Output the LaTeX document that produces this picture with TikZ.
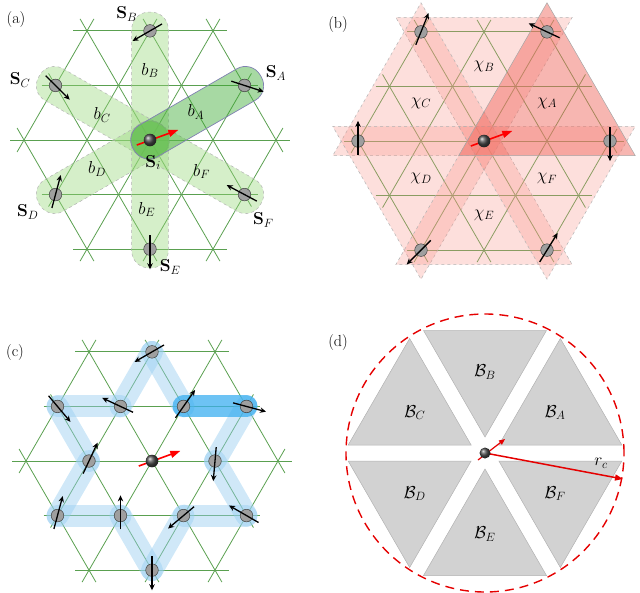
\documentclass[tikz,border=0pt]{standalone}
\usetikzlibrary{arrows.meta}
\definecolor{latgreen}{RGB}{90,160,80}
\definecolor{bandg}{RGB}{150,215,120}
\definecolor{bandA}{RGB}{60,170,50}
\definecolor{trired}{RGB}{250,150,140}
\definecolor{triA}{RGB}{240,110,100}
\definecolor{bandblue}{RGB}{150,205,240}
\definecolor{darkblue}{RGB}{60,175,240}
\tikzset{
  latline/.style={draw=latgreen, line width=0.8pt},
  spinball/.style={fill=gray!75, draw=black!75, line width=0.5pt},
  spinarrow/.style={-{Stealth[length=6pt,width=5.5pt]}, line width=1.3pt},
  redarrow/.style={red, line width=1.6pt, -{Triangle[length=10pt,width=7pt]}},
  lbl/.style={font=\fontsize{18}{20}\selectfont},
  plbl/.style={font=\fontsize{16}{18}\selectfont},
}
\newcommand\lattice{%
  \foreach \r in {0,60,120}{%
    \begin{scope}[rotate=\r]
      \foreach \k in {-2,...,2}{%
        \pgfmathsetmacro\w{2-abs(\k)/2+0.22}
        \draw[latline] (-\w,\k*0.866) -- (\w,\k*0.866);
      }
    \end{scope}}}
\newcommand\spinat[3]{% name, position, angle
  \coordinate (#1) at (#2);
  \fill[spinball] (#1) circle (0.1);
  \draw[spinarrow] ([shift={(#3+180:0.22)}]#1) -- ([shift={(#3:0.32)}]#1);
}
\newcommand\centerspin{%
  \draw[redarrow] (-0.21,-0.08) -- (0.45,0.16);
  \shade[ball color=gray!60!black] (0,0) circle (0.1);
}
\begin{document}
\begin{tikzpicture}[x=1pt,y=1pt]
\useasboundingbox (0,0) rectangle (640,-592);
% ---------------- (a)
\node[plbl] (la) at (16,-20) {(a)};
\begin{scope}[shift={(150,-140)}, x=63pt, y=63pt]
  \lattice
  \foreach \ang/\nm in {90/B,150/C,210/D,270/E,330/F}{%
    \begin{scope}[rotate=\ang]
      \draw[fill=bandg, fill opacity=0.4, draw=gray!60, dashed, line width=0.5pt, rounded corners=17pt]
        (-0.3,-0.29) rectangle (2.03,0.29);
    \end{scope}}
  \begin{scope}[rotate=30]
    \draw[fill=bandA, fill opacity=0.45, draw=blue!25!gray!80, line width=0.7pt, rounded corners=17pt]
      (-0.3,-0.29) rectangle (2.03,0.29);
  \end{scope}
  \node[lbl] (bA) at (0.73,0.44) {$b_A$};
  \node[lbl] (bB) at (0.0,1.1) {$b_B$};
  \node[lbl] (bC) at (-0.76,0.4) {$b_C$};
  \node[lbl] (bD) at (-0.84,-0.46) {$b_D$};
  \node[lbl] (bE) at (-0.05,-1.1) {$b_E$};
  \node[lbl] (bF) at (0.82,-0.5) {$b_F$};
  \spinat{sA}{1.5,0.866}{-18}
  \spinat{sB}{0,1.732}{210}
  \spinat{sC}{-1.5,0.866}{-45}
  \spinat{sD}{-1.5,-0.866}{75}
  \spinat{sE}{0,-1.732}{-90}
  \spinat{sF}{1.5,-0.866}{152}
  \centerspin
  \node[lbl] (SA) at (2.0,1.06) {$\mathbf{S}_A$};
  \node[lbl] (SB) at (-0.37,2.0) {$\mathbf{S}_B$};
  \node[lbl] (SC) at (-2.06,0.95) {$\mathbf{S}_C$};
  \node[lbl] (SD) at (-1.94,-1.14) {$\mathbf{S}_D$};
  \node[lbl] (SE) at (0.32,-2.02) {$\mathbf{S}_E$};
  \node[lbl] (SF) at (1.8,-1.27) {$\mathbf{S}_F$};
  \node[lbl] (Si) at (0.05,-0.36) {$\mathbf{S}_i$};
\end{scope}
% ---------------- (b)
\node[plbl] (lb) at (338,-25) {(b)};
\begin{scope}[shift={(484,-141)}, x=63pt, y=63pt]
  \lattice
  \foreach \k in {1,...,5}{%
    \begin{scope}[rotate=60*\k]
      \draw[fill=trired, fill opacity=0.3, draw=gray!60, dashed, line width=0.5pt]
        (-0.4,-0.231) -- (2.4,-0.231) -- (1,2.194) -- cycle;
    \end{scope}}
  \draw[fill=triA, fill opacity=0.5, draw=gray!70, line width=0.5pt]
    (-0.4,-0.231) -- (2.4,-0.231) -- (1,2.194) -- cycle;
  \node[lbl] (cA) at (1.0,0.6) {$\chi_A$};
  \node[lbl] (cB) at (0.0,1.18) {$\chi_B$};
  \node[lbl] (cC) at (-1.0,0.6) {$\chi_C$};
  \node[lbl] (cD) at (-1.0,-0.6) {$\chi_D$};
  \node[lbl] (cE) at (0.0,-1.18) {$\chi_E$};
  \node[lbl] (cF) at (1.0,-0.6) {$\chi_F$};
  \spinat{tA}{1,1.732}{155}
  \spinat{tB}{-1,1.732}{68}
  \spinat{tC}{-2,0}{90}
  \spinat{tD}{-1,-1.732}{225}
  \spinat{tE}{1,-1.732}{58}
  \spinat{tF}{2,0}{-90}
  \centerspin
\end{scope}
% ---------------- (c)
\node[plbl] (lc) at (15,-353) {(c)};
\begin{scope}[shift={(152,-461)}, x=63pt, y=63pt]
  \lattice
  \coordinate (h1) at (0,1.732);
  \coordinate (h2) at (-0.5,0.866);
  \coordinate (h3) at (-1.5,0.866);
  \coordinate (h4) at (-1,0);
  \coordinate (h5) at (-1.5,-0.866);
  \coordinate (h6) at (-0.5,-0.866);
  \coordinate (h7) at (0,-1.732);
  \coordinate (h8) at (0.5,-0.866);
  \coordinate (h9) at (1.5,-0.866);
  \coordinate (h10) at (1,0);
  \coordinate (h11) at (1.5,0.866);
  \coordinate (h12) at (0.5,0.866);
  \foreach \p/\q in {h1/h2,h2/h3,h3/h4,h4/h5,h5/h6,h6/h7,h7/h8,h8/h9,h9/h10,h10/h11,h12/h1}{%
    \draw[bandblue, line width=22pt, line cap=round, opacity=0.45] (\p) -- (\q);}
  \draw[darkblue, line width=22pt, line cap=round, opacity=0.75] (h11) -- (h12);
  \spinat{u1}{0,1.732}{210}
  \spinat{u2}{-0.5,0.866}{155}
  \spinat{u3}{-1.5,0.866}{-50}
  \spinat{u4}{-1,0}{65}
  \spinat{u5}{-1.5,-0.866}{75}
  \spinat{u6}{-0.5,-0.866}{90}
  \spinat{u7}{0,-1.732}{-90}
  \spinat{u8}{0.5,-0.866}{220}
  \spinat{u9}{1.5,-0.866}{150}
  \spinat{u10}{1,0}{-95}
  \spinat{u11}{1.5,0.866}{-15}
  \spinat{u12}{0.5,0.866}{55}
  \centerspin
\end{scope}
% ---------------- (d)
\node[plbl] (ld) at (338,-343) {(d)};
\begin{scope}[shift={(485,-453)}]
  \foreach \k/\nm in {0/A,1/B,2/C,3/D,4/E,5/F}{%
    \begin{scope}[rotate=60*\k]
      \draw[fill=gray!35, draw=gray!60, line width=0.5pt]
        ([shift={(90:71)}]30:87) -- ([shift={(210:71)}]30:87) -- ([shift={(330:71)}]30:87) -- cycle;
    \end{scope}
    \node[lbl] (B\nm) at (30+60*\k:81) {$\mathcal{B}_\nm$};}
  \draw[red!90!black, line width=1.4pt, dash pattern=on 9pt off 6pt] (0,0) circle (139);
  \coordinate (dc) at (0,0);
  \coordinate (rtip) at (138,-26);
  \draw[red!90!black, line width=1.5pt, -{Triangle[length=8pt,width=6pt]}] (dc) -- (rtip);
  \draw[red!90!black, line width=1.2pt, -{Triangle[length=6pt,width=5pt]}] (-7,-7) -- (20,14);
  \shade[ball color=gray!60!black] (dc) circle (5.5);
  \node[lbl] (rc) at (116,-10) {$r_c$};
\end{scope}
\end{tikzpicture}
\end{document}
